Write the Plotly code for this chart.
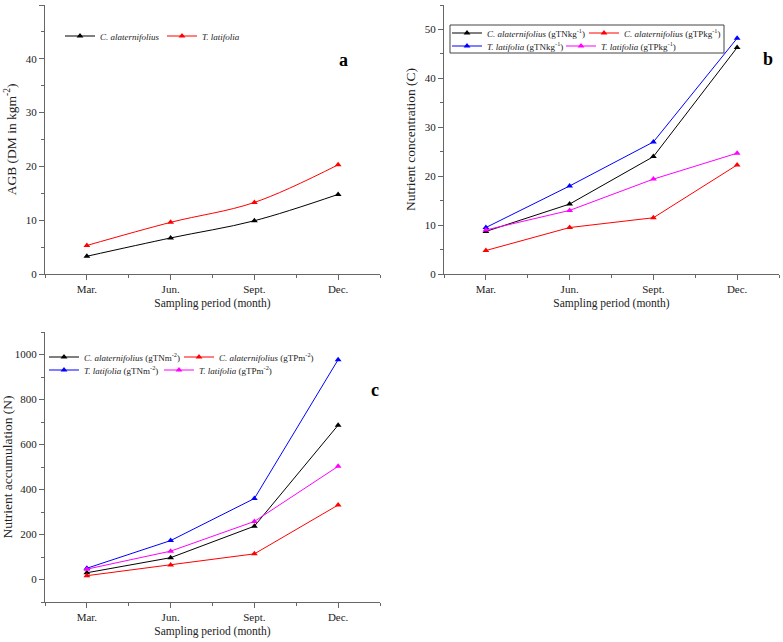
import plotly.graph_objects as go

# ---------------- data ----------------
months = ["Mar.", "Jun.", "Sept.", "Dec."]
month_pos = [0, 1, 2, 3]

# panel a: above-ground biomass (kg m-2)
agb_calat = [3.3, 6.7, 9.9, 14.8]
agb_tlat = [5.3, 9.6, 13.3, 20.3]

# panel b: nutrient concentration
conc_calat_tn = [8.7, 14.3, 24.0, 46.3]
conc_calat_tp = [4.8, 9.5, 11.5, 22.3]
conc_tlat_tn = [9.5, 18.0, 27.0, 48.2]
conc_tlat_tp = [9.0, 13.0, 19.4, 24.7]

# panel c: nutrient accumulation
acc_calat_tn = [30, 97, 237, 686]
acc_calat_tp = [17, 64, 114, 331]
acc_tlat_tn = [50, 173, 360, 977]
acc_tlat_tp = [46, 126, 258, 503]

BLACK, RED, BLUE, MAG = "#000000", "#ff0000", "#0000ff", "#ff00ff"
FONT = "Liberation Serif"
W, H = 783, 642


def px_x(v):
    return v / W


def px_y(v):
    return (H - v) / H


fig = go.Figure()


def add(x, y, name, color, xa, ya, legend, shape="linear"):
    fig.add_trace(go.Scatter(
        x=x, y=y, name=name, mode="lines+markers",
        line=dict(color=color, width=1, shape=shape),
        marker=dict(symbol="triangle-up", size=6, color=color),
        xaxis=xa, yaxis=ya, legend=legend,
    ))


# panel a
add(month_pos, agb_calat, "<i>C. alaternifolius</i>", BLACK, "x", "y", "legend", "spline")
add(month_pos, agb_tlat, "<i>T. latifolia</i>", RED, "x", "y", "legend2", "spline")
# panel b
add(month_pos, conc_calat_tn, "<i>C. alaternifolius</i> (gTNkg<sup>-1</sup>)", BLACK, "x2", "y2", "legend3")
add(month_pos, conc_calat_tp, "<i>C. alaternifolius</i> (gTPkg<sup>-1</sup>)", RED, "x2", "y2", "legend4")
add(month_pos, conc_tlat_tn, "<i>T. latifolia</i> (gTNkg<sup>-1</sup>)", BLUE, "x2", "y2", "legend5")
add(month_pos, conc_tlat_tp, "<i>T. latifolia</i> (gTPkg<sup>-1</sup>)", MAG, "x2", "y2", "legend6")
# panel c
add(month_pos, acc_calat_tn, "<i>C. alaternifolius</i> (gTNm<sup>-2</sup>)", BLACK, "x3", "y3", "legend7")
add(month_pos, acc_calat_tp, "<i>C. alaternifolius</i> (gTPm<sup>-2</sup>)", RED, "x3", "y3", "legend8")
add(month_pos, acc_tlat_tn, "<i>T. latifolia</i> (gTNm<sup>-2</sup>)", BLUE, "x3", "y3", "legend9")
add(month_pos, acc_tlat_tp, "<i>T. latifolia</i> (gTPm<sup>-2</sup>)", MAG, "x3", "y3", "legend10")

AX_COL = "#666666"
TXT = "#222222"
TICK_FONT = dict(family=FONT, size=11, color=TXT)


def xaxis(domain, anchor):
    return dict(
        domain=domain, anchor=anchor, range=[-0.5, 3.5],
        tickmode="array", tickvals=month_pos, ticktext=months,
        ticks="outside", ticklen=5, tickwidth=1, tickcolor=AX_COL,
        minor=dict(tick0=0.5, dtick=1, ticks="outside", ticklen=3, tickcolor=AX_COL),
        showline=True, linecolor=AX_COL, linewidth=1, showgrid=False, zeroline=False,
        tickfont=TICK_FONT,
        title=dict(text="Sampling period (month)", font=dict(family=FONT, size=11.5, color=TXT), standoff=4),
        automargin=False,
    )


def yaxis(domain, anchor, rng, dtick, minor, title, standoff):
    return dict(
        domain=domain, anchor=anchor, range=rng, tick0=0, dtick=dtick,
        ticks="outside", ticklen=5, tickwidth=1, tickcolor=AX_COL,
        minor=dict(tick0=0, dtick=minor, ticks="outside", ticklen=3, tickcolor=AX_COL),
        showline=True, linecolor=AX_COL, linewidth=1, showgrid=False, zeroline=False,
        tickfont=TICK_FONT,
        title=dict(text=title, font=dict(family=FONT, size=13.5, color=TXT), standoff=standoff),
        automargin=False,
    )


dom_xa = [px_x(45), px_x(380)]
dom_xb = [px_x(444), px_x(779)]
dom_ytop = [px_y(274), px_y(5)]
dom_yc = [px_y(602), px_y(332)]

leg_common = dict(orientation="h", xanchor="left", yanchor="middle",
                  bgcolor="rgba(0,0,0,0)", borderwidth=0, itemwidth=30,
                  font=dict(family=FONT, size=9, color=TXT),
                  tracegroupgap=0, itemclick=False, itemdoubleclick=False)


def leg(xpx, ypx):
    return dict(x=px_x(xpx), y=px_y(ypx), **leg_common)


def label(txt, xpx, ypx):
    return dict(text="<b>%s</b>" % txt, x=px_x(xpx), y=px_y(ypx), xref="paper", yref="paper",
                xanchor="center", yanchor="middle", showarrow=False,
                font=dict(family=FONT, size=18, color="#000000"))


fig.update_layout(
    width=W, height=H, margin=dict(l=0, r=0, t=0, b=0),
    paper_bgcolor="white", plot_bgcolor="white",
    font=dict(family=FONT, color=TXT),
    showlegend=True,
    xaxis=xaxis(dom_xa, "y"),
    yaxis=yaxis(dom_ytop, "x", [0, 50], 10, 5, "AGB (DM in kgm<sup>-2</sup>)", 6),
    xaxis2=xaxis(dom_xb, "y2"),
    yaxis2=yaxis(dom_ytop, "x2", [0, 55], 10, 5, "Nutrient concentration (C)", 6),
    xaxis3=xaxis(dom_xa, "y3"),
    yaxis3=yaxis(dom_yc, "x3", [-100, 1100], 200, 100, "Nutrient accumulation (N)", 2),
    legend=leg(60, 36),
    legend2=leg(162, 36),
    legend3=leg(447, 33),
    legend4=leg(584, 33),
    legend5=leg(447, 46),
    legend6=leg(561, 46),
    legend7=leg(44, 357),
    legend8=leg(179, 357),
    legend9=leg(44, 370),
    legend10=leg(159, 370),
    shapes=[dict(type="rect", xref="paper", yref="paper",
                 x0=px_x(450), x1=px_x(724), y0=px_y(53), y1=px_y(25),
                 line=dict(color="#444444", width=1), fillcolor="rgba(0,0,0,0)")],
    annotations=[label("a", 343, 60), label("b", 768, 59), label("c", 375, 390)],
)

fig.write_html(
    "out.html",
    config={"displayModeBar": False},
    post_script="document.body.style.margin='0';document.body.style.overflow='hidden';",
)
